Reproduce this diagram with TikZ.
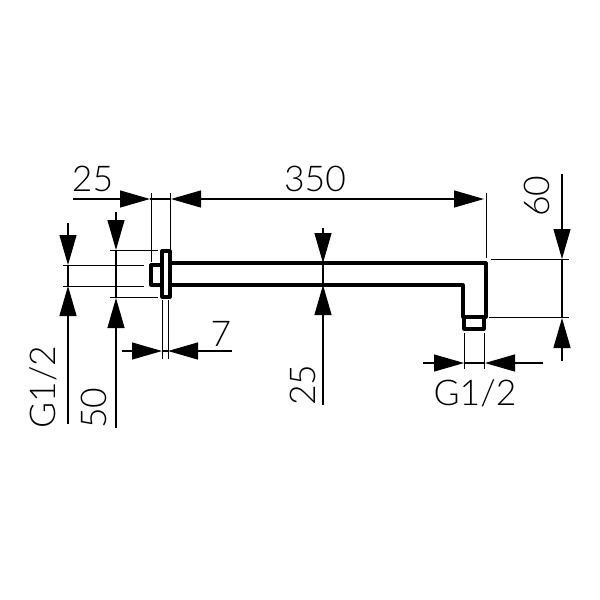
\documentclass[tikz,border=0pt]{standalone}
\usepackage{fontspec}
\setmainfont{Lato Light}
\usetikzlibrary{arrows.meta}
\tikzset{
  part/.style={line width=3.2pt,line join=round},
  dimline/.style={line width=1.2pt},
  extline/.style={line width=0.9pt},
  dimarrow/.style={line width=1.2pt,-{Triangle[length=30pt,width=17pt]}},
  dimboth/.style={line width=1.2pt,{Triangle[length=30pt,width=17pt]}-{Triangle[length=30pt,width=17pt]}},
  dimtext/.style={inner sep=0pt,font=\fontsize{35.5}{36}\selectfont}
}
\begin{document}
\begin{tikzpicture}[x=1pt,y=-1pt]
      \useasboundingbox (0,0) rectangle (600,600);
      %arm
      \draw[part] (170,263) -- (486,263) -- (486,317) -- (463,317) -- (463,285) -- (170,285);
      \draw[part] (162,251) rectangle (170,297);
      \draw[part] (162,265) -- (151,265) -- (151,285) -- (162,285);
      \draw[part] (464,317) -- (464,329) -- (484,329) -- (484,317);

      %extension lines
      \draw[extline] (151,193) -- (151,262);
      \draw[extline] (170,193) -- (170,250);
      \draw[extline] (486,193) -- (486,258);
      \draw[extline] (63,265) -- (144,265);
      \draw[extline] (63,286) -- (144,286);
      \draw[extline] (110,250) -- (158,250);
      \draw[extline] (110,297) -- (158,297);
      \draw[extline] (162,300) -- (162,359);
      \draw[extline] (168,300) -- (168,359);
      \draw[extline] (491,259) -- (569,259);
      \draw[extline] (489,317) -- (569,317);
      \draw[extline] (464,333) -- (464,369);
      \draw[extline] (484,333) -- (484,369);

      %arrow ends
      \coordinate (top25a) at (73,199);
      \coordinate (top25b) at (150,199);
      \coordinate (top25c) at (171,199);
      \coordinate (top350) at (484,199);
      \coordinate (leftGa) at (68,223);
      \coordinate (leftGb) at (68,265);
      \coordinate (leftGc) at (68,286);
      \coordinate (leftGd) at (68,424);
      \coordinate (left50a) at (116,212);
      \coordinate (left50b) at (116,250);
      \coordinate (left50c) at (116,298);
      \coordinate (left50d) at (116,428);
      \coordinate (flangea) at (122,351);
      \coordinate (flangeb) at (162,351);
      \coordinate (flangec) at (168,351);
      \coordinate (flanged) at (232,351);
      \coordinate (pipea) at (323,228);
      \coordinate (pipeb) at (323,263);
      \coordinate (pipec) at (323,285);
      \coordinate (piped) at (323,405);
      \coordinate (drop60a) at (562,174);
      \coordinate (drop60b) at (562,259);
      \coordinate (drop60c) at (562,318);
      \coordinate (drop60d) at (562,361);
      \coordinate (rightGa) at (423,363);
      \coordinate (rightGb) at (464,363);
      \coordinate (rightGc) at (485,363);
      \coordinate (rightGd) at (543,363);

      \draw[dimarrow] (top25a) -- (top25b);
      \draw[dimline] (top25b) -- (top25c);
      \draw[dimboth] (top25c) -- (top350);
      \draw[dimarrow] (leftGa) -- (leftGb);
      \draw[dimline] (leftGb) -- (leftGc);
      \draw[dimarrow] (leftGd) -- (leftGc);
      \draw[dimarrow] (left50a) -- (left50b);
      \draw[dimline] (left50b) -- (left50c);
      \draw[dimarrow] (left50d) -- (left50c);
      \draw[dimarrow] (flangea) -- (flangeb);
      \draw[dimline] (flangeb) -- (flangec);
      \draw[dimarrow] (flanged) -- (flangec);
      \draw[dimarrow] (pipea) -- (pipeb);
      \draw[dimline] (pipeb) -- (pipec);
      \draw[dimarrow] (piped) -- (pipec);
      \draw[dimarrow] (drop60a) -- (drop60b);
      \draw[dimline] (drop60b) -- (drop60c);
      \draw[dimarrow] (drop60d) -- (drop60c);
      \draw[dimarrow] (rightGa) -- (rightGb);
      \draw[dimline] (rightGb) -- (rightGc);
      \draw[dimarrow] (rightGd) -- (rightGc);

      %labels
      \node[dimtext,anchor=base] (label25) at (92.5,191) {25};
      \node[dimtext,anchor=base] (label350) at (315,191) {350};
      \node[dimtext,anchor=base] (label7) at (221,346) {7};
      \node[dimtext,anchor=base] (labelG) at (475,405) {G1/2};
      \node[dimtext,anchor=base,rotate=90] (labelGl) at (55,387) {G1/2};
      \node[dimtext,anchor=base,rotate=90] (label50) at (106,408) {50};
      \node[dimtext,anchor=base,rotate=90] (label25v) at (315,385) {25};
      \node[dimtext,anchor=base,rotate=90] (label60) at (549,196) {60};
    \end{tikzpicture}
\end{document}
